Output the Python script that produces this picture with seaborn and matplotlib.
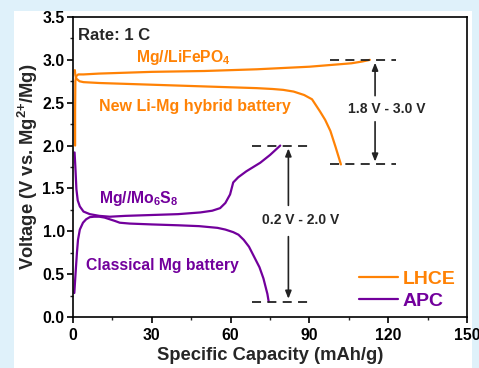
import pandas as pd
import matplotlib.pyplot as plt
import matplotlib.patches as mpatches
from matplotlib.ticker import MultipleLocator
import seaborn as sns

sns.set_style("ticks")
plt.rcParams['font.family'] = ['Liberation Sans', 'DejaVu Sans']
plt.rcParams['font.weight'] = 'bold'
plt.rcParams['mathtext.fontset'] = 'custom'
plt.rcParams['mathtext.bf'] = 'Liberation Sans:bold'
plt.rcParams['mathtext.rm'] = 'Liberation Sans:bold'

ORANGE = "#ff8205"
PURPLE = "#72009c"

# LHCE (Mg//LiFePO4) charge / discharge
lhce_chg_x = [0.8, 0.8, 0.9, 1.2, 2, 4, 10, 20, 30, 40, 50, 60, 70, 80, 90, 100, 106, 110, 113]
lhce_chg_y = [2.00, 2.40, 2.75, 2.81, 2.83, 2.83, 2.84, 2.85, 2.86, 2.865, 2.87, 2.88, 2.89, 2.905, 2.92, 2.945, 2.96, 2.98, 3.00]
lhce_dis_x = [0.7, 0.9, 1.3, 2.5, 4, 10, 20, 30, 40, 50, 60, 70, 76, 80, 84, 88, 91, 94, 96, 98, 100, 101, 102]
lhce_dis_y = [2.88, 2.82, 2.78, 2.75, 2.74, 2.73, 2.72, 2.71, 2.70, 2.69, 2.68, 2.67, 2.66, 2.65, 2.63, 2.59, 2.54, 2.40, 2.30, 2.17, 1.98, 1.88, 1.78]

# APC (Mg//Mo6S8) charge / discharge
apc_chg_x = [0.6, 0.9, 1.3, 1.8, 2.6, 4, 6.4, 10, 14, 20, 30, 40, 48.5, 53, 56, 58, 59.8, 61, 62.9, 66, 71.3, 75, 78.9]
apc_chg_y = [1.92, 1.75, 1.49, 1.36, 1.29, 1.23, 1.20, 1.18, 1.17, 1.18, 1.19, 1.20, 1.22, 1.24, 1.27, 1.33, 1.43, 1.57, 1.63, 1.70, 1.80, 1.89, 2.00]
apc_dis_x = [0.5, 1.0, 1.5, 1.9, 2.6, 3.8, 5, 6.4, 8, 10, 12, 14, 16, 17.8, 21.6, 30, 40, 48, 55, 58, 61, 63, 65, 67, 69, 71, 72.5, 74, 74.5]
apc_dis_y = [0.28, 0.52, 0.75, 0.90, 1.02, 1.10, 1.14, 1.165, 1.17, 1.17, 1.16, 1.14, 1.12, 1.10, 1.09, 1.08, 1.07, 1.06, 1.04, 1.02, 0.99, 0.96, 0.90, 0.82, 0.70, 0.58, 0.45, 0.27, 0.18]

frames = []
for name, branch, xs, ys in [("LHCE", "LHCE chg", lhce_chg_x, lhce_chg_y),
                             ("LHCE", "LHCE dis", lhce_dis_x, lhce_dis_y),
                             ("APC", "APC chg", apc_chg_x, apc_chg_y),
                             ("APC", "APC dis", apc_dis_x, apc_dis_y)]:
    frames.append(pd.DataFrame({"cap": xs, "volt": ys, "elec": name, "branch": branch}))
df = pd.concat(frames, ignore_index=True)

fig = plt.figure(figsize=(4.79, 3.68), dpi=100)
fig.patch.set_facecolor("#dff1fa")
fig.add_artist(mpatches.Rectangle((14 / 479, 0), (472 - 14) / 479, 1 - 11 / 368,
                                  transform=fig.transFigure, facecolor="white",
                                  edgecolor="none", zorder=-10))
ax = fig.add_axes([73 / 479, 1 - 317 / 368, (467 - 73) / 479, (317 - 17) / 368])
ax.set_facecolor("white")

sns.lineplot(data=df, x="cap", y="volt", hue="elec", units="branch", estimator=None,
             sort=False, palette={"LHCE": ORANGE, "APC": PURPLE}, linewidth=1.6,
             legend=False, ax=ax)

ax.set_xlim(0, 150)
ax.set_ylim(0, 3.5)
ax.xaxis.set_major_locator(MultipleLocator(30))
ax.xaxis.set_minor_locator(MultipleLocator(15))
ax.yaxis.set_major_locator(MultipleLocator(0.5))
ax.yaxis.set_minor_locator(MultipleLocator(0.25))
ax.yaxis.set_major_formatter(plt.FormatStrFormatter("%.1f"))
ax.tick_params(which="major", length=4, width=1.2, labelsize=11.3, pad=2, colors="black")
ax.tick_params(axis="x", which="major", pad=4)
ax.tick_params(which="minor", length=2.5, width=1)
for s in ax.spines.values():
    s.set_linewidth(1.2)
    s.set_color("black")
for lab in ax.get_xticklabels() + ax.get_yticklabels():
    lab.set_fontweight("bold")

ax.set_xlabel("Specific Capacity (mAh/g)", fontsize=13.2, fontweight="bold", labelpad=3)
ax.set_ylabel("Voltage (V vs. Mg$^{\\mathbf{2}\\mathbf{+}}$/Mg)", fontsize=13.2,
              fontweight="bold", labelpad=2)

# dashed guides
dash = dict(color="#222222", linestyle=(0, (5, 3.5)), linewidth=1.3)
ax.plot([98, 123], [3.0, 3.0], **dash)
ax.plot([98, 123], [1.78, 1.78], **dash)
ax.plot([68, 90], [2.0, 2.0], **dash)
ax.plot([68, 90], [0.18, 0.18], **dash)

arr = dict(arrowstyle="-|>,head_width=0.18,head_length=0.45", color="#222222", lw=1.2)
ax.annotate("", xy=(115, 3.0), xytext=(115, 2.55), arrowprops=arr)
ax.annotate("", xy=(115, 1.78), xytext=(115, 2.31), arrowprops=arr)
ax.text(119.3, 2.43, "1.8 V - 3.0 V", ha="center", va="center", fontsize=10, fontweight="bold")
ax.annotate("", xy=(82, 2.0), xytext=(82, 1.27), arrowprops=arr)
ax.annotate("", xy=(82, 0.18), xytext=(82, 0.97), arrowprops=arr)
ax.text(86.5, 1.13, "0.2 V - 2.0 V", ha="center", va="center", fontsize=10, fontweight="bold")

ax.text(2, 3.37, "Rate: 1 C", ha="left", va="top", fontsize=12, fontweight="bold")
ax.text(42, 3.03, "Mg//LiFePO$_\\mathbf{4}$", color=ORANGE, ha="center", va="center",
        fontsize=11.3, fontweight="bold")
ax.text(10, 2.46, "New Li-Mg hybrid battery", color=ORANGE, ha="left", va="center",
        fontsize=11.5, fontweight="bold")
ax.text(10, 1.38, "Mg//Mo$_\\mathbf{6}$S$_\\mathbf{8}$", color=PURPLE, ha="left", va="center",
        fontsize=11.3, fontweight="bold")
ax.text(5, 0.60, "Classical Mg battery", color=PURPLE, ha="left", va="center",
        fontsize=11.3, fontweight="bold")

handles = [plt.Line2D([], [], color=ORANGE, lw=1.6), plt.Line2D([], [], color=PURPLE, lw=1.6)]
leg = ax.legend(handles, ["LHCE", "APC"], loc="lower right", frameon=False, fontsize=14,
                handlelength=2.0, handletextpad=0.25, labelspacing=0.25,
                bbox_to_anchor=(1.015, -0.035))
for t, c in zip(leg.get_texts(), [ORANGE, PURPLE]):
    t.set_color(c)
    t.set_fontweight("bold")

fig.savefig("out.png", dpi=100, facecolor=fig.get_facecolor())
